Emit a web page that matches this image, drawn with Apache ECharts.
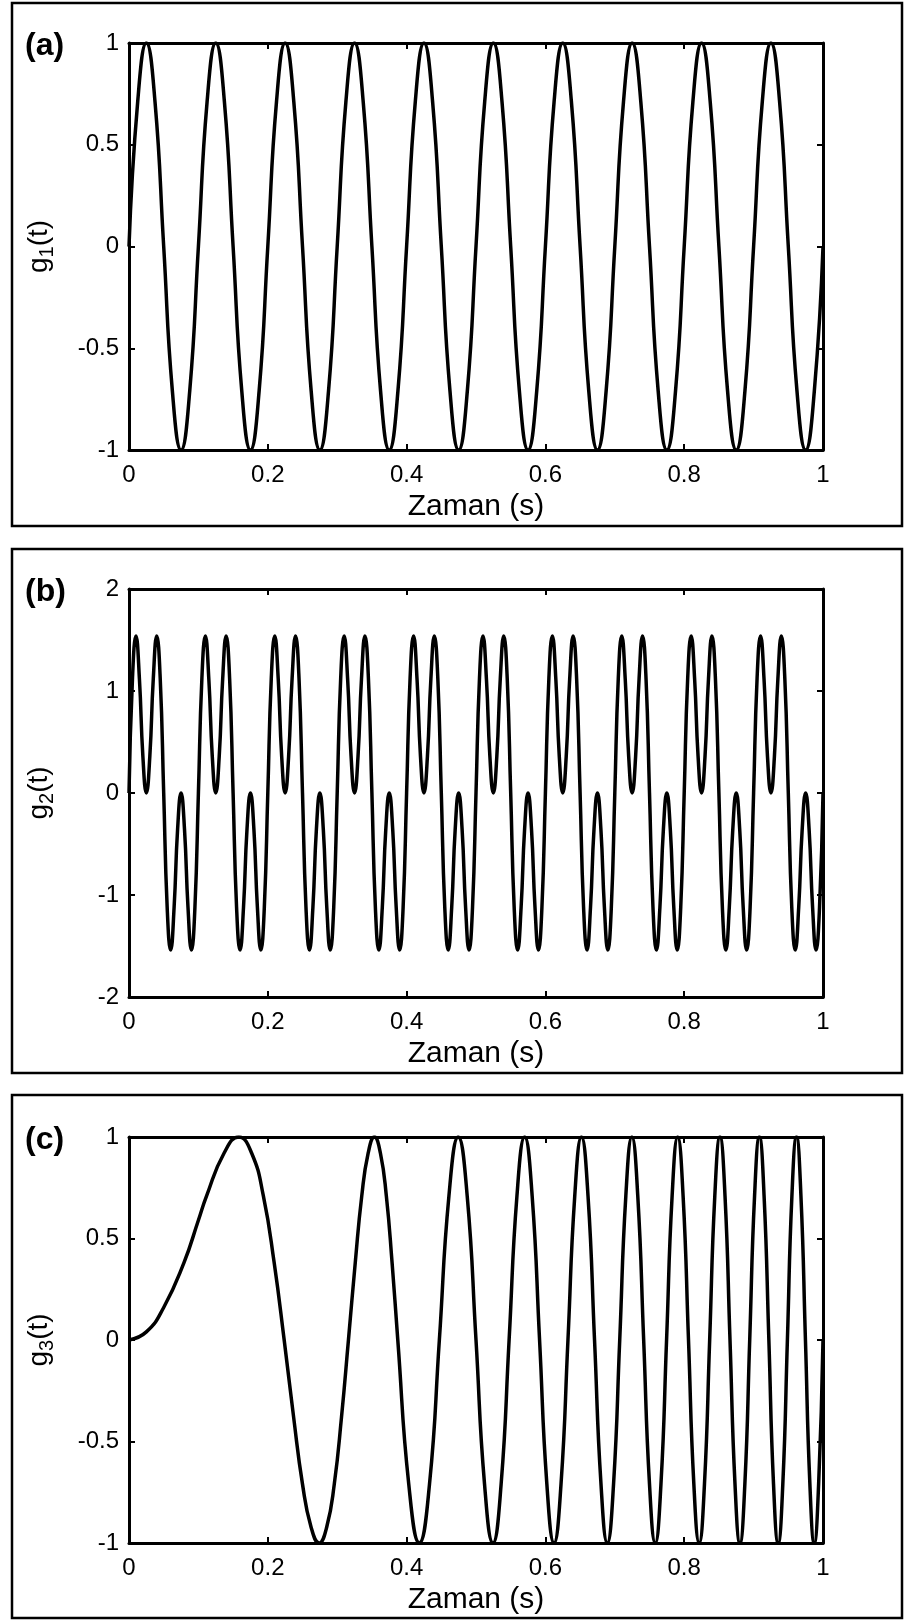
<!DOCTYPE html>
<html>
<head>
<meta charset="utf-8">
<script src="https://cdn.jsdelivr.net/npm/echarts@6/dist/echarts.min.js"></script>
<style>
  html, body { margin: 0; padding: 0; background: #fff; }
  #chart { width: 904px; height: 1620px; }
</style>
</head>
<body>
<div id="chart"></div>
<script>
// ---- data ----
// (a) g1(t): 10 full cycles between 0 and 1 s
var tA = [
  0, .0125, .025, .0375, .05, .0625, .075, .0875,
  .1, .1125, .125, .1375, .15, .1625, .175, .1875,
  .2, .2125, .225, .2375, .25, .2625, .275, .2875,
  .3, .3125, .325, .3375, .35, .3625, .375, .3875,
  .4, .4125, .425, .4375, .45, .4625, .475, .4875,
  .5, .5125, .525, .5375, .55, .5625, .575, .5875,
  .6, .6125, .625, .6375, .65, .6625, .675, .6875,
  .7, .7125, .725, .7375, .75, .7625, .775, .7875,
  .8, .8125, .825, .8375, .85, .8625, .875, .8875,
  .9, .9125, .925, .9375, .95, .9625, .975, .9875,
  1
];
var g1 = [
  0, .71, 1, .71, 0, -.71, -1, -.71,
  0, .71, 1, .71, 0, -.71, -1, -.71,
  0, .71, 1, .71, 0, -.71, -1, -.71,
  0, .71, 1, .71, 0, -.71, -1, -.71,
  0, .71, 1, .71, 0, -.71, -1, -.71,
  0, .71, 1, .71, 0, -.71, -1, -.71,
  0, .71, 1, .71, 0, -.71, -1, -.71,
  0, .71, 1, .71, 0, -.71, -1, -.71,
  0, .71, 1, .71, 0, -.71, -1, -.71,
  0, .71, 1, .71, 0, -.71, -1, -.71,
  0
];

// (b) g2(t): double humps up to ~1.54 and down to ~-1.54
var tB = [
  0, .005, .01, .015, .02, .025, .03, .035, .04, .045, .05, .055, .06, .065, .07, .075, .08, .085, .09, .095,
  .1, .105, .11, .115, .12, .125, .13, .135, .14, .145, .15, .155, .16, .165, .17, .175, .18, .185, .19, .195,
  .2, .205, .21, .215, .22, .225, .23, .235, .24, .245, .25, .255, .26, .265, .27, .275, .28, .285, .29, .295,
  .3, .305, .31, .315, .32, .325, .33, .335, .34, .345, .35, .355, .36, .365, .37, .375, .38, .385, .39, .395,
  .4, .405, .41, .415, .42, .425, .43, .435, .44, .445, .45, .455, .46, .465, .47, .475, .48, .485, .49, .495,
  .5, .505, .51, .515, .52, .525, .53, .535, .54, .545, .55, .555, .56, .565, .57, .575, .58, .585, .59, .595,
  .6, .605, .61, .615, .62, .625, .63, .635, .64, .645, .65, .655, .66, .665, .67, .675, .68, .685, .69, .695,
  .7, .705, .71, .715, .72, .725, .73, .735, .74, .745, .75, .755, .76, .765, .77, .775, .78, .785, .79, .795,
  .8, .805, .81, .815, .82, .825, .83, .835, .84, .845, .85, .855, .86, .865, .87, .875, .88, .885, .89, .895,
  .9, .905, .91, .915, .92, .925, .93, .935, .94, .945, .95, .955, .96, .965, .97, .975, .98, .985, .99, .995,
  1
];
var g2 = [
  0, 1.12, 1.54, 1.12, .36, 0, .36, 1.12, 1.54, 1.12, 0, -1.12, -1.54, -1.12, -.36, 0, -.36, -1.12, -1.54, -1.12,
  0, 1.12, 1.54, 1.12, .36, 0, .36, 1.12, 1.54, 1.12, 0, -1.12, -1.54, -1.12, -.36, 0, -.36, -1.12, -1.54, -1.12,
  0, 1.12, 1.54, 1.12, .36, 0, .36, 1.12, 1.54, 1.12, 0, -1.12, -1.54, -1.12, -.36, 0, -.36, -1.12, -1.54, -1.12,
  0, 1.12, 1.54, 1.12, .36, 0, .36, 1.12, 1.54, 1.12, 0, -1.12, -1.54, -1.12, -.36, 0, -.36, -1.12, -1.54, -1.12,
  0, 1.12, 1.54, 1.12, .36, 0, .36, 1.12, 1.54, 1.12, 0, -1.12, -1.54, -1.12, -.36, 0, -.36, -1.12, -1.54, -1.12,
  0, 1.12, 1.54, 1.12, .36, 0, .36, 1.12, 1.54, 1.12, 0, -1.12, -1.54, -1.12, -.36, 0, -.36, -1.12, -1.54, -1.12,
  0, 1.12, 1.54, 1.12, .36, 0, .36, 1.12, 1.54, 1.12, 0, -1.12, -1.54, -1.12, -.36, 0, -.36, -1.12, -1.54, -1.12,
  0, 1.12, 1.54, 1.12, .36, 0, .36, 1.12, 1.54, 1.12, 0, -1.12, -1.54, -1.12, -.36, 0, -.36, -1.12, -1.54, -1.12,
  0, 1.12, 1.54, 1.12, .36, 0, .36, 1.12, 1.54, 1.12, 0, -1.12, -1.54, -1.12, -.36, 0, -.36, -1.12, -1.54, -1.12,
  0, 1.12, 1.54, 1.12, .36, 0, .36, 1.12, 1.54, 1.12, 0, -1.12, -1.54, -1.12, -.36, 0, -.36, -1.12, -1.54, -1.12,
  0
];

// (c) g3(t): chirp, oscillation gets faster with time
var tC = [
  0, .025, .05, .0791, .1,
  .1118, .1369, .1581, .1768, .1936, .2092, .2236, .2372,
  .25, .2622, .2739, .285, .2958, .3062, .3162, .326,
  .3354, .3446, .3536, .3623, .3708, .3791, .3873,
  .4031, .4183, .433, .4472,
  .461, .4743, .4873, .5, .5123, .5244, .5362, .5477,
  .559, .5701, .5809, .5916, .6021, .6124, .6225, .6325,
  .6423, .6519, .6614, .6708, .6801, .6892, .6982, .7071,
  .7159, .7246, .7331, .7416, .75, .7583, .7665, .7746,
  .7826, .7906, .7984, .8062, .8139, .8216, .8292, .8367,
  .8441, .8515, .8588, .866, .8732, .8803, .8874, .8944,
  .9014, .9083, .9151, .922, .9287, .9354, .9421, .9487,
  .9552, .9618, .9682, .9747, .9811, .9874, .9937, 1
];
var g3 = [
  0, .04, .16, .38, .59,
  .71, .92, 1, .92, .71, .38, 0, -.38,
  -.71, -.92, -1, -.92, -.71, -.38, 0, .38,
  .71, .92, 1, .92, .71, .38, 0,
  -.71, -1, -.71, 0,
  .71, 1, .71, 0, -.71, -1, -.71, 0,
  .71, 1, .71, 0, -.71, -1, -.71, 0,
  .71, 1, .71, 0, -.71, -1, -.71, 0,
  .71, 1, .71, 0, -.71, -1, -.71, 0,
  .71, 1, .71, 0, -.71, -1, -.71, 0,
  .71, 1, .71, 0, -.71, -1, -.71, 0,
  .71, 1, .71, 0, -.71, -1, -.71, 0,
  .71, 1, .71, 0, -.71, -1, -.71, 0
];

var xTicks = [0, 0.2, 0.4, 0.6, 0.8, 1];
var panelNames = ['(a)', '(b)', '(c)'];
var ySubs = ['1', '2', '3'];
var yRanges = [[-1, 1, 0.5], [-2, 2, 1], [-1, 1, 0.5]];

// ---- layout ----
var FONT = '"Liberation Sans", Arial, Helvetica, sans-serif';
var gridTops = [43, 589, 1137];
var gridHeights = [407, 408, 406];
var boxTops = [3, 549, 1095];
var boxHeights = [523, 524, 523];

var chart = echarts.init(document.getElementById('chart'));

var grids = [], xAxes = [], yAxes = [], series = [], graphics = [];
var datasets = [[tA, g1], [tB, g2], [tC, g3]];

function frameLine() {
  return { show: true, onZero: false, lineStyle: { color: '#000', width: 3 } };
}
function innerTick() {
  return { show: true, inside: true, length: 6, lineStyle: { color: '#000', width: 2 } };
}

for (var i = 0; i < 3; i++) {
  grids.push({ left: 129, top: gridTops[i], width: 694, height: gridHeights[i] });

  // bottom and top x axes
  xAxes.push({
    type: 'value', gridIndex: i, position: 'bottom',
    min: xTicks[0], max: xTicks[xTicks.length - 1], interval: 0.2,
    axisLine: frameLine(), axisTick: innerTick(), splitLine: { show: false },
    axisLabel: { color: '#000', fontSize: 24, fontFamily: FONT, margin: 13 },
    name: 'Zaman (s)', nameLocation: 'middle', nameGap: 42,
    nameTextStyle: { color: '#000', fontSize: 30, fontFamily: FONT }
  });
  xAxes.push({
    type: 'value', gridIndex: i, position: 'top',
    min: 0, max: 1, interval: 0.2,
    axisLine: frameLine(), axisTick: innerTick(), splitLine: { show: false },
    axisLabel: { show: false }
  });

  var r = yRanges[i];
  yAxes.push({
    type: 'value', gridIndex: i, position: 'left',
    min: r[0], max: r[1], interval: r[2],
    axisLine: frameLine(), axisTick: innerTick(), splitLine: { show: false },
    axisLabel: { color: '#000', fontSize: 24, fontFamily: FONT, margin: 10 },
    name: '{m|g}{s|' + ySubs[i] + '}{m|(t)}', nameLocation: 'middle', nameRotate: 90, nameGap: 72,
    nameTextStyle: {
      color: '#000', fontFamily: FONT,
      rich: {
        m: { fontSize: 28, fontFamily: FONT, color: '#000', lineHeight: 36 },
        s: { fontSize: 20, fontFamily: FONT, color: '#000', lineHeight: 20, verticalAlign: 'bottom' }
      }
    }
  });
  yAxes.push({
    type: 'value', gridIndex: i, position: 'right',
    min: r[0], max: r[1], interval: r[2],
    axisLine: frameLine(), axisTick: innerTick(), splitLine: { show: false },
    axisLabel: { show: false }
  });

  var d = datasets[i];
  series.push({
    type: 'line', xAxisIndex: 2 * i, yAxisIndex: 2 * i,
    data: d[0].map(function (t, k) { return [t, d[1][k]]; }),
    smooth: true, showSymbol: false, symbol: 'none',
    lineStyle: { color: '#000', width: 3.5 },
    z: 1
  });

  // outer panel box
  graphics.push({
    type: 'rect', silent: true,
    shape: { x: 12, y: boxTops[i], width: 890, height: boxHeights[i] },
    style: { fill: 'none', stroke: '#000', lineWidth: 2.5 }
  });
  // panel letter
  graphics.push({
    type: 'text', x: 25, y: gridTops[i] + 3,
    style: { text: panelNames[i], fill: '#000', font: 'bold 32px ' + FONT, verticalAlign: 'middle' }
  });
}

chart.setOption({
  animation: false,
  backgroundColor: '#fff',
  grid: grids,
  xAxis: xAxes,
  yAxis: yAxes,
  series: series,
  graphic: graphics
});
</script>
</body>
</html>
